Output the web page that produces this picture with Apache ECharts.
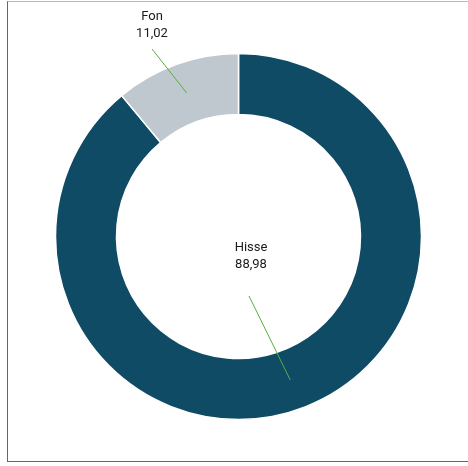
<!DOCTYPE html>
<html>
<head>
<meta charset="utf-8">
<script src="https://cdn.jsdelivr.net/npm/echarts@6/dist/echarts.min.js"></script>
<style>
  html, body { margin: 0; padding: 0; background: #fff; }
  #frame {
    position: absolute; left: 7px; top: 1px; width: 470px; height: 459px;
    border-left: 1.5px solid #41709d; border-bottom: 1.5px solid #41709d;
    border-top: 1.5px solid #a3bdd6;
  }
  #chart { position: absolute; left: 0; top: 0; width: 468px; height: 466px; }
</style>
</head>
<body>
<div id="frame"></div>
<div id="chart"></div>
<script>
// veriler
var categories = ['Hisse', 'Fon']
var values = [88.98, 11.02]
var colors = ['#0f4b65', '#c0c8cf']

// etiket konumlari (merkez) ve cizgi bitis noktalari
var labelPos = [[251, 256], [152, 25]]
var lineEnd = [[249, 296], [152, 49]]

var cx = 238.5, cy = 236.5, rIn = 122, rOut = 183

function fmt(v) {
  return v.toFixed(2).replace('.', ',')
}

var total = values.reduce(function (a, b) { return a + b }, 0)

// dilim ortasinin halka ortasindaki noktasi
function midPoint(idx) {
  var before = 0
  for (var i = 0; i < idx; i++) before += values[i]
  var mid = (before + values[idx] / 2) / total
  var ang = (90 - mid * 360) * Math.PI / 180
  var r = (rIn + rOut) / 2
  return [cx + r * Math.cos(ang), cy - r * Math.sin(ang)]
}

var chart = echarts.init(document.getElementById('chart'))
chart.setOption({
  animation: false,
  series: [{
    // halka
    type: 'pie',
    z: 1,
    center: [cx, cy],
    radius: [rIn, rOut],
    startAngle: 90,
    clockwise: true,
    emphasis: { disabled: true },
    itemStyle: { borderColor: '#fff', borderWidth: 1.5 },
    label: { show: false },
    labelLine: { show: false },
    data: categories.map(function (c, i) {
      return { name: c, value: values[i], itemStyle: { color: colors[i] } }
    })
  }, {
    // etiketler + cizgiler (halkanin ustunde)
    type: 'pie',
    z: 5,
    center: [cx, cy],
    radius: [rIn, rOut],
    startAngle: 90,
    clockwise: true,
    silent: true,
    avoidLabelOverlap: false,
    emphasis: { disabled: true },
    itemStyle: { color: 'rgba(0,0,0,0)', borderWidth: 0 },
    label: {
      show: true,
      position: 'outside',
      color: '#1a1a1a',
      fontFamily: 'Roboto, Arial, sans-serif',
      fontSize: 13,
      lineHeight: 17,
      align: 'center',
      formatter: function (p) { return p.name + '\n' + fmt(p.value) }
    },
    labelLine: {
      show: true,
      showAbove: true,
      lineStyle: { color: '#55b03f', width: 1 }
    },
    labelLayout: function (p) {
      var i = p.dataIndex
      return {
        x: labelPos[i][0],
        y: labelPos[i][1],
        align: 'center',
        verticalAlign: 'middle',
        labelLinePoints: [midPoint(i), lineEnd[i]]
      }
    },
    data: categories.map(function (c, i) {
      return { name: c, value: values[i] }
    })
  }]
})
</script>
</body>
</html>
